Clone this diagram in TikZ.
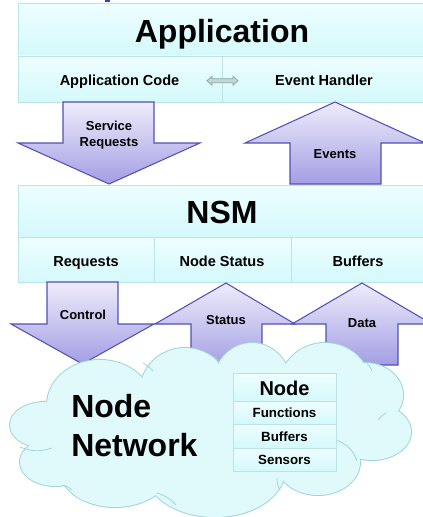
\documentclass[tikz,border=0pt]{standalone}
\usepackage{fontspec}
\setmainfont{Liberation Sans}
\usetikzlibrary{calc}
\definecolor{cellTop}{RGB}{238,254,255}
\definecolor{cellBot}{RGB}{212,249,251}
\definecolor{cellLine}{RGB}{188,228,232}
\definecolor{arrTop}{RGB}{238,236,251}
\definecolor{arrBot}{RGB}{163,158,228}
\definecolor{arrLine}{RGB}{84,80,182}
\definecolor{cloudFill}{RGB}{224,250,252}
\definecolor{cloudLine}{RGB}{160,212,220}
\definecolor{swapFill}{RGB}{196,214,214}
\definecolor{swapLine}{RGB}{140,168,168}
\definecolor{titleBlue}{RGB}{60,60,200}
\begin{document}
\begin{tikzpicture}[x=0.75pt,y=-0.75pt,
  cell/.style={draw=cellLine, line width=0.7pt, top color=cellTop, bottom color=cellBot},
  flow/.style={draw=arrLine, line width=0.8pt, line join=miter, top color=arrTop, bottom color=arrBot},
  fold/.style={draw=cloudLine, line width=0.6pt},
  bigtitle/.style={inner sep=0, anchor=base, font=\bfseries\fontsize{24}{28}\selectfont},
  sublabel/.style={inner sep=0, anchor=base, font=\bfseries\fontsize{10.9}{13}\selectfont},
  flowlabel/.style={inner sep=0, anchor=base, font=\bfseries\fontsize{9.75}{12}\selectfont},
  rowlabel/.style={inner sep=0, anchor=base, font=\bfseries\fontsize{10}{12}\selectfont}]
\useasboundingbox (0,0) rectangle (423,517);
\clip (0,0) rectangle (423,517);

% fragment of the heading above the page
\fill[titleBlue] (105,0) rectangle (110,2);

% ---------- Application layer ----------
\path[cell] (18,3) rectangle (440,56);
\path[cell] (18,56) rectangle (222,102);
\path[cell] (222,56) rectangle (440,102);
\node[bigtitle] (app) at (222,42.7) {Application};
\node[sublabel] (appcode) at (119.5,85.5) {Application Code};
\node[sublabel] (evhandler) at (324,85.5) {Event Handler};
\coordinate (swapL) at (207,80.7);
\coordinate (swapR) at (238,80.7);
\path[draw=swapLine, fill=swapFill, line width=0.6pt]
  (swapL) -- ++(5,-4.5) -- ++(0,2.5) -- ($(swapR)+(-5,-2)$) -- ++(0,-2.5) -- (swapR)
  -- ++(-5,4.5) -- ++(0,-2.5) -- ($(swapL)+(5,2)$) -- ++(0,2.5) -- cycle;

% ---------- NSM layer ----------
\path[cell] (18,185) rectangle (440,237);
\path[cell] (18,237) rectangle (154,282);
\path[cell] (154,237) rectangle (291,282);
\path[cell] (291,237) rectangle (440,282);
\node[bigtitle] (nsm) at (222,223.3) {NSM};
\node[sublabel] (requests) at (86,266.5) {Requests};
\node[sublabel] (nodestatus) at (222,266.5) {Node Status};
\node[sublabel] (buffers) at (358,266.5) {Buffers};

% ---------- arrows between Application and NSM ----------
\path[flow] (63,102) -- (154,102) -- (154,143) -- (200,143) -- (109,184)
  -- (18,143) -- (63,143) -- cycle;
\node[flowlabel, align=center, anchor=center] (service) at (109,135.2) {Service\\Requests};
\path[flow] (335,102) -- (425,143) -- (381,143) -- (381,184) -- (290,184)
  -- (290,143) -- (245,143) -- cycle;
\node[flowlabel] (events) at (335,158.3) {Events};

% ---------- arrows between NSM and the network ----------
\path[flow] (47,282) -- (118,282) -- (118,324) -- (154,324) -- (82.5,364)
  -- (11,324) -- (47,324) -- cycle;
\node[flowlabel] (control) at (83,319.3) {Control};
\path[flow] (226,283) -- (295,324) -- (262,324) -- (262,368) -- (191,368)
  -- (191,324) -- (155,324) -- cycle;
\node[flowlabel] (status) at (226,324.3) {Status};
\path[flow] (362,283) -- (432,324) -- (398,324) -- (398,365) -- (326,365)
  -- (326,324) -- (292,324) -- cycle;
\node[flowlabel] (data) at (362,327.7) {Data};

% ---------- node network cloud (union of lobes) ----------
\def\lobes{100/405/53/45, 185/392/45/44, 252/388/40/45, 325/385/45/42,
  365/395/38/32, 372/432/39/28, 318/462/42/33, 215/470/70/47,
  115/470/55/37, 55/462/35/24, 45/425/35/23, 210/430/160/55}
\foreach \cx/\cy/\rx/\ry in \lobes
  \draw[cloudLine, line width=1.5pt] (\cx,\cy) ellipse [x radius=\rx, y radius=\ry];
\foreach \cx/\cy/\rx/\ry in \lobes
  \fill[cloudFill] (\cx,\cy) ellipse [x radius=\rx, y radius=\ry];
% inner folds of the cloud
\path[fold] (20,447) to[bend right=20] (52,448);
\path[fold] (143,363) to[bend left=10] (153,371);
\path[fold] (215,357) to[bend left=10] (219,364);
\path[fold] (367,363) to[bend left=10] (372,371);
\path[fold] (386,413) to[bend right=10] (378,420);
\path[fold] (336,440) to[bend left=25] (357,461);
\path[fold] (277,478) to[bend right=15] (280,490);
\path[fold] (157,493) to[bend left=15] (176,505);
\path[fold] (63,485) to[bend left=10] (72,490);
\node[inner sep=0, anchor=west, align=left, font=\bfseries\fontsize{24}{29.25}\selectfont]
  (network) at (71,425.8) {Node\\Network};

% ---------- node table ----------
\path[cell] (233,373) rectangle (336,401);
\path[cell] (233,401) rectangle (336,424);
\path[cell] (233,424) rectangle (336,448);
\path[cell] (233,448) rectangle (336,471);
\node[inner sep=0, anchor=base, font=\bfseries\fontsize{15}{18}\selectfont] (nodetitle) at (284.5,395) {Node};
\node[rowlabel] (functions) at (284.5,417.3) {Functions};
\node[rowlabel] (nbuffers) at (284.5,441) {Buffers};
\node[rowlabel] (sensors) at (284.5,464) {Sensors};
\end{tikzpicture}
\end{document}
